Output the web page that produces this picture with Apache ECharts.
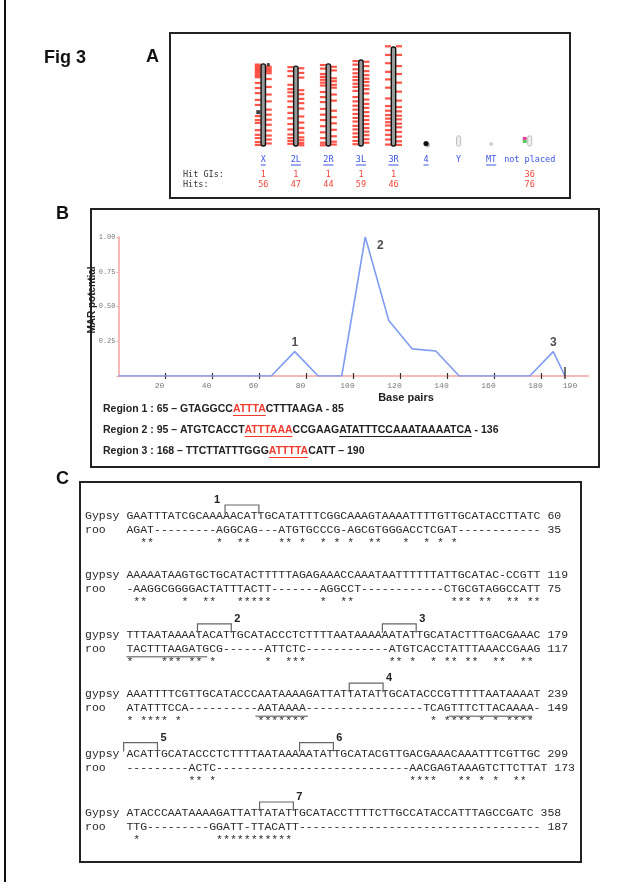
<!DOCTYPE html>
<html>
<head>
<meta charset="utf-8">
<title>Fig 3</title>
<script src="https://cdn.jsdelivr.net/npm/echarts@6.0.0/dist/echarts.min.js"></script>
<style>
    html, body { margin: 0; padding: 0; background: #fff; }
    #fig { width: 638px; height: 895px; }
</style>
</head>
<body>
<div id="fig"></div>
<script>
// A: hit map on the chromosome arms (positions in Mb from the bottom of each arm)
var chromNames = ['X', '2L', '2R', '3L', '3R', '4', 'Y', 'MT', 'not placed'];
var chromLinked = [true, true, true, true, true, true, false, true, false];
var chromLen = [22.8, 22.2, 22.8, 23.9, 27.5, 1.0, 2.8, 0.5, 2.8];
var hitGIs = ['1', '1', '1', '1', '1', '', '', '', '36'];
var hitCounts = ['56', '47', '44', '59', '46', '', '', '', '76'];
var hitsLeft = [
    [22.6, 22.1, 21.6, 21.1, 20.6, 20.1, 19.6, 19.1, 17.5, 16.1, 14.7, 12.8, 11.4, 8.3, 7.2, 6.4, 4.4, 3.1, 2.2, 1.1, 0.3],
    [21.9, 20.8, 19.4, 17.0, 15.8, 14.9, 13.8, 12.4, 10.8, 9.2, 7.7, 6.1, 4.6, 3.2, 2.2, 1.4, 0.6],
    [22.5, 21.5, 20.0, 19.2, 18.4, 17.6, 16.8, 15.0, 13.6, 12.2, 10.3, 8.7, 7.2, 5.5, 3.8, 2.2, 0.9, 0.2],
    [23.6, 22.6, 21.3, 20.2, 19.2, 18.3, 17.3, 16.4, 15.3, 13.6, 12.4, 11.2, 10.1, 8.9, 7.8, 6.8, 5.6, 4.6, 3.5, 2.5, 1.4, 0.5],
    [27.7, 25.3, 23.0, 20.6, 18.5, 16.2, 13.2, 11.1, 9.8, 8.6, 7.6, 6.6, 5.7, 4.4, 3.1, 1.8, 0.4],
    [], [], [], []
];
var hitsRight = [
    [22.0, 21.4, 20.8, 20.2, 18.6, 16.4, 14.3, 12.4, 10.1, 8.7, 7.3, 5.9, 4.3, 2.9, 1.8, 0.7],
    [21.6, 20.3, 19.0, 15.5, 14.4, 13.1, 11.9, 10.4, 8.2, 6.5, 5.0, 3.7, 2.4, 1.6, 0.8, 0.2],
    [22.0, 21.0, 18.8, 18.0, 17.0, 16.2, 14.3, 12.6, 9.8, 8.0, 6.3, 4.5, 2.7, 1.2, 0.4],
    [23.4, 22.2, 20.8, 19.7, 18.7, 17.8, 16.8, 15.8, 14.6, 12.9, 11.7, 10.6, 9.4, 8.3, 7.2, 6.1, 5.0, 4.0, 3.0, 1.9, 0.9],
    [27.7, 25.3, 22.2, 20.0, 17.6, 15.1, 12.6, 10.8, 9.6, 8.4, 7.4, 6.2, 5.2, 3.9, 2.6, 1.3, 0.3],
    [], [], [], []
];
// the two black marks on X
var blackLeft = [[0, 9.4]];
var blackRight = [[0, 22.6]];

// B: MAR potential along the sequence
var basePairs = [0, 65, 75, 85, 95, 105, 115, 125, 135, 145, 175, 185, 190];
var marPotential = [0, 0, 0.175, 0, 0, 1.0, 0.40, 0.195, 0.18, 0, 0, 0.175, 0];
var peakBp = [75, 105, 185];
var peakValue = [0.175, 1.0, 0.175];
var peakText = ['1', '2', '3'];
var bpTicks = [20, 40, 60, 80, 100, 120, 140, 160, 180];
var bpLabels = [20, 40, 60, 80, 100, 120, 140, 160, 180, 190];
var regions = [
    [['Region 1 : 65 \u2013 GTAGGCC', 'n'], ['ATTTA', 'r'], ['CTTTAAGA - 85', 'n']],
    [['Region 2 : 95 \u2013 ATGTCACCT', 'n'], ['ATTTAAA', 'r'], ['CCGAAG', 'n'], ['ATATTTCCAAATAAAATCA', 'u'], [' - 136', 'n']],
    [['Region 3 : 168 \u2013 TTCTTATTTGGG', 'n'], ['ATTTTA', 'r'], ['CATT \u2013 190', 'n']]
];

// C: gypsy / roo alignment
var alnNames = ['Gypsy', 'gypsy', 'gypsy', 'gypsy', 'gypsy', 'Gypsy'];
var gypsySeq = [
    'GAATTTATCGCAAAAACATTGCATATTTCGGCAAAGTAAAATTTTGTTGCATACCTTATC',
    'AAAAATAAGTGCTGCATACTTTTTAGAGAAACCAAATAATTTTTTATTGCATAC-CCGTT',
    'TTTAATAAAATACATTGCATACCCTCTTTTAATAAAAAATATTGCATACTTTGACGAAAC',
    'AAATTTTCGTTGCATACCCAATAAAAGATTATTATATTGCATACCCGTTTTTAATAAAAT',
    'ACATTGCATACCCTCTTTTAATAAAAATATTGCATACGTTGACGAAACAAATTTCGTTGC',
    'ATACCCAATAAAAGATTATTATATTGCATACCTTTTCTTGCCATACCATTTAGCCGATC'
];
var rooSeq = [
    'AGAT---------AGGCAG---ATGTGCCCG-AGCGTGGGACCTCGAT------------',
    '-AAGGCGGGGACTATTTACTT-------AGGCCT------------CTGCGTAGGCCATT',
    'TACTTTAAGATGCG------ATTCTC------------ATGTCACCTATTTAAACCGAAG',
    'ATATTTCCA----------AATAAAA-----------------TCAGTTTCTTACAAAA-',
    '---------ACTC----------------------------AACGAGTAAAGTCTTCTTAT',
    'TTG---------GGATT-TTACATT-----------------------------------'
];
var gypsyEnd = [60, 119, 179, 239, 299, 358];
var rooEnd = [35, 75, 117, 149, 173, 187];
var starCols = [
    [2, 3, 13, 16, 17, 22, 23, 25, 28, 30, 32, 35, 36, 40, 43, 45, 47],
    [1, 2, 8, 11, 12, 16, 17, 18, 19, 20, 28, 31, 32, 47, 48, 49, 51, 52, 55, 56, 58, 59],
    [0, 5, 6, 7, 9, 10, 12, 20, 23, 24, 25, 38, 39, 41, 44, 46, 47, 49, 50, 53, 54, 57, 58],
    [0, 2, 3, 4, 5, 7, 19, 20, 21, 22, 23, 24, 25, 44, 46, 47, 48, 49, 51, 53, 55, 56, 57, 58],
    [9, 10, 12, 41, 42, 43, 44, 48, 49, 51, 53, 56, 57],
    [1, 13, 14, 15, 16, 17, 18, 19, 20, 21, 22, 23]
];
// boxed motifs: block, first column, number
var motifBlock = [0, 2, 2, 3, 4, 4, 5];
var motifCol = [14.3, 10.3, 37.1, 32.3, -0.4, 25.1, 19.3];
var motifText = ['1', '2', '3', '4', '5', '6', '7'];
// underlined stretches of roo: block, from column, to column
var rooMarks = [[2, 0, 11.7], [3, 18.7, 26.3], [3, 46.7, 58.8]];


var chart = echarts.init(document.getElementById('fig'), null, {renderer: 'canvas'});
var ctx = document.createElement('canvas').getContext('2d');

function textWidth(str, font) {
    ctx.font = font;
    return ctx.measureText(str).width;
}

function starLine(cols) {
    var s = [];
    for (var i = 0; i < 60; i++) s.push(' ');
    cols.forEach(function (c) { s[c] = '*'; });
    return s.join('').replace(/\s+$/, '');
}

function pad(str, n) {
    while (str.length < n) str += ' ';
    return str;
}

var SANS = '"Liberation Sans", Arial, sans-serif';
var MONO = '"Liberation Mono", "Courier New", monospace';
var SMALL = '"DejaVu Sans Mono", monospace';
var ink = '#222';
var graphics = [];

// frame, boxes and panel letters
graphics.push({type: 'line', shape: {x1: 5, y1: 0, x2: 5, y2: 882}, style: {stroke: '#111', lineWidth: 2}});
[[170, 33, 400, 165], [91, 209, 508, 258], [80, 482, 501, 380]].forEach(function (b) {
    graphics.push({type: 'rect', shape: {x: b[0], y: b[1], width: b[2], height: b[3]},
        style: {fill: 'none', stroke: '#222', lineWidth: 2}});
});
[['Fig 3', 44, 58], ['A', 146, 57], ['B', 56, 214], ['C', 56, 479]].forEach(function (t) {
    graphics.push({type: 'text', x: t[1], y: t[2], style: {text: t[0], fill: '#111',
        fontSize: 18, fontWeight: 'bold', fontFamily: SANS, verticalAlign: 'middle'}});
});

// panel A row titles
graphics.push({type: 'text', x: 183, y: 175, style: {text: 'Hit GIs:', fill: '#333', fontSize: 8.5, fontFamily: SMALL, verticalAlign: 'middle'}});
graphics.push({type: 'text', x: 183, y: 185, style: {text: 'Hits:', fill: '#333', fontSize: 8.5, fontFamily: SMALL, verticalAlign: 'middle'}});

// panel B titles
graphics.push({type: 'text', x: 406, y: 398, style: {text: 'Base pairs', fill: ink, fontSize: 11, fontWeight: 'bold', fontFamily: SANS, align: 'center', verticalAlign: 'middle'}});
graphics.push({type: 'text', x: 92, y: 300, rotation: Math.PI / 2, style: {text: 'MAR potential', fill: ink, fontSize: 10, fontWeight: 'bold', fontFamily: SANS, align: 'center', verticalAlign: 'middle'}});

// region sequences
var regionFont = 'bold 10.5px ' + SANS;
regions.forEach(function (segs, r) {
    var x = 103, y = 409.5 + r * 21;
    segs.forEach(function (s) {
        var w = textWidth(s[0], regionFont);
        var col = s[1] === 'r' ? '#f03a2e' : ink;
        graphics.push({type: 'text', x: x, y: y, style: {text: s[0], fill: col, fontSize: 10.5,
            fontWeight: 'bold', fontFamily: SANS, verticalAlign: 'middle'}});
        if (s[1] !== 'n') {
            graphics.push({type: 'line', shape: {x1: x, y1: y + 6, x2: x + w, y2: y + 6}, style: {stroke: col, lineWidth: 1}});
        }
        x += w;
    });
});

// alignment text
var cw = 6.9, rowX = 85, seqX = rowX + 6 * cw;
function blockY(b) { return 516 + b * 59.4; }
gypsySeq.forEach(function (seq, b) {
    var y = blockY(b);
    var rows = [
        pad(alnNames[b], 6) + seq + ' ' + gypsyEnd[b],
        pad('roo', 6) + rooSeq[b] + ' ' + rooEnd[b],
        pad('', 6) + starLine(starCols[b])
    ];
    rows.forEach(function (txt, k) {
        graphics.push({type: 'text', x: rowX, y: y + [0, 14, 27][k], style: {text: txt, fill: '#2a2a2a',
            fontSize: cw / 0.6, fontFamily: MONO, verticalAlign: 'middle'}});
    });
});
motifCol.forEach(function (c, m) {
    var y = blockY(motifBlock[m]);
    var x1 = seqX + c * cw, x2 = x1 + 4.9 * cw;
    graphics.push({type: 'polyline', shape: {points: [[x1, y - 2], [x1, y - 11], [x2, y - 11], [x2, y - 2]]},
        style: {fill: 'none', stroke: '#666', lineWidth: 1.2}});
    graphics.push({type: 'text', x: m === 0 ? x1 - 8 : x2 + 6, y: y - 16, style: {text: motifText[m], fill: ink,
        fontSize: 11, fontWeight: 'bold', fontFamily: SANS, align: 'center', verticalAlign: 'middle'}});
});
rooMarks.forEach(function (u) {
    var y = blockY(u[0]) + 22;
    graphics.push({type: 'line', shape: {x1: seqX + u[1] * cw, y1: y, x2: seqX + u[2] * cw, y2: y},
        style: {stroke: '#888', lineWidth: 1.5}});
});

// scatter points for hits
function hitPoints(list) {
    var pts = [];
    list.forEach(function (arr, i) {
        arr.forEach(function (v) { pts.push([i, v]); });
    });
    return pts;
}

chart.setOption({
    animation: false,
    grid: [
        {left: 247, top: 45.2, width: 293, height: 100.8},
        {left: 118.5, top: 237, width: 470, height: 139}
    ],
    xAxis: [
        {gridIndex: 0, type: 'category', data: chromNames, show: false},
        {
            gridIndex: 1, type: 'value', min: 0, max: 200, position: 'bottom',
            axisLine: {lineStyle: {color: '#f5a3a3', width: 1.5}},
            axisTick: {customValues: bpTicks, length: 3, lineStyle: {color: '#333', width: 1.2}},
            axisLabel: {
                customValues: bpLabels, color: '#777', fontSize: 8, fontFamily: MONO, margin: 6,
                formatter: function (v) { return v === 190 ? '{r|190}' : '{n|' + v + '}'; },
                rich: {n: {padding: [0, 12, 0, 0]}, r: {padding: [0, 0, 0, 10]}}
            },
            splitLine: {show: false}
        },
        {
            gridIndex: 1, type: 'value', min: 0, max: 200, position: 'bottom',
            axisLine: {show: false},
            axisTick: {customValues: bpTicks, inside: true, length: 3, lineStyle: {color: '#333', width: 1.2}},
            axisLabel: {show: false},
            splitLine: {show: false}
        }
    ],
    yAxis: [
        {gridIndex: 0, type: 'value', min: 0, max: 28, show: false},
        {
            gridIndex: 1, type: 'value', min: 0, max: 1, interval: 0.25,
            axisLine: {show: true, lineStyle: {color: '#f5a3a3', width: 1.5}},
            axisTick: {show: true, length: 2, lineStyle: {color: '#f5a3a3'}},
            axisLabel: {color: '#777', fontSize: 7, fontFamily: MONO, margin: 3,
                formatter: function (v) { return v === 0 ? '' : v.toFixed(2); }},
            splitLine: {show: false}
        }
    ],
    series: [
        {
            type: 'custom', xAxisIndex: 0, yAxisIndex: 0,
            data: chromLen.map(function (l, i) { return [i, l]; }),
            renderItem: function (params, api) {
                var i = api.value(0);
                var b = api.coord([i, 0]), t = api.coord([i, api.value(1)]);
                var name = chromNames[i];
                if (name === '4') {
                    return {type: 'group', children: [
                        {type: 'circle', shape: {cx: b[0] + 1.5, cy: b[1] - 1, r: 2.5}, style: {fill: '#bbb'}},
                        {type: 'circle', shape: {cx: b[0], cy: b[1] - 2.5, r: 2.6}, style: {fill: '#111'}}
                    ]};
                }
                if (name === 'MT') {
                    return {type: 'circle', shape: {cx: b[0], cy: b[1] - 2, r: 2}, style: {fill: '#d0d0d0'}};
                }
                if (name === 'Y' || name === 'not placed') {
                    var cx = name === 'Y' ? b[0] : b[0] + 6;
                    var kids = [{type: 'rect', shape: {x: cx - 2, y: t[1], width: 4, height: b[1] - t[1], r: 1.5},
                        style: {fill: '#f0f0f0', stroke: '#bbb', lineWidth: 1}}];
                    if (name === 'not placed') {
                        kids.push({type: 'rect', shape: {x: cx - 7, y: t[1] + 1, width: 4, height: 3}, style: {fill: '#e0409a'}});
                        kids.push({type: 'rect', shape: {x: cx - 7, y: t[1] + 4, width: 4, height: 3}, style: {fill: '#5ac85a'}});
                    }
                    return {type: 'group', children: kids};
                }
                return {type: 'rect', shape: {x: b[0] - 2.2, y: t[1], width: 4.4, height: b[1] - t[1], r: 2},
                    style: {fill: '#9a9a9a', stroke: '#111', lineWidth: 1.4}};
            },
            z: 3
        },
        {
            type: 'scatter', xAxisIndex: 0, yAxisIndex: 0, data: hitPoints(hitsLeft),
            symbol: 'rect', symbolSize: [6, 2.2], symbolOffset: [-5.5, 0],
            itemStyle: {color: '#ff2a1a'}, silent: true
        },
        {
            type: 'scatter', xAxisIndex: 0, yAxisIndex: 0, data: hitPoints(hitsRight),
            symbol: 'rect', symbolSize: [6, 2.2], symbolOffset: [5.5, 0],
            itemStyle: {color: '#ff2a1a'}, silent: true
        },
        {
            type: 'scatter', xAxisIndex: 0, yAxisIndex: 0, data: blackLeft,
            symbol: 'rect', symbolSize: [4, 4], symbolOffset: [-5, 0], itemStyle: {color: '#111'}
        },
        {
            type: 'scatter', xAxisIndex: 0, yAxisIndex: 0, data: blackRight,
            symbol: 'rect', symbolSize: [3, 3], symbolOffset: [5, 0], itemStyle: {color: '#111'}
        },
        {
            // names under the arms + hit counts
            type: 'custom', xAxisIndex: 0, yAxisIndex: 0,
            data: chromNames.map(function (n, i) { return [i, 0]; }),
            renderItem: function (params, api) {
                var i = api.value(0);
                var p = api.coord([i, 0]);
                var name = chromNames[i];
                var x = name === 'not placed' ? p[0] + 6 : p[0];
                var w = name.length * 5.1;
                var kids = [
                    {type: 'text', x: x, y: p[1] + 14, style: {text: name, fill: '#3d55e6', fontSize: 8.5, fontFamily: SMALL, align: 'center', verticalAlign: 'middle'}},
                    {type: 'text', x: x, y: p[1] + 29, style: {text: hitGIs[i], fill: '#f0483c', fontSize: 8.5, fontFamily: SMALL, align: 'center', verticalAlign: 'middle'}},
                    {type: 'text', x: x, y: p[1] + 39, style: {text: hitCounts[i], fill: '#f0483c', fontSize: 8.5, fontFamily: SMALL, align: 'center', verticalAlign: 'middle'}}
                ];
                if (chromLinked[i]) {
                    kids.push({type: 'line', shape: {x1: x - w / 2, y1: p[1] + 19, x2: x + w / 2, y2: p[1] + 19}, style: {stroke: '#3d55e6', lineWidth: 1}});
                }
                return {type: 'group', children: kids};
            }
        },
        {
            type: 'line', xAxisIndex: 1, yAxisIndex: 1,
            data: basePairs.map(function (x, i) { return [x, marPotential[i]]; }),
            symbol: 'none', lineStyle: {color: '#7f9cf2', width: 1.6}, z: 4
        },
        {
            type: 'scatter', xAxisIndex: 1, yAxisIndex: 1,
            data: peakBp.map(function (x, i) { return [x, peakValue[i]]; }),
            symbolSize: 0,
            label: {
                show: true, color: ink, fontSize: 12, fontWeight: 'bold', fontFamily: SANS,
                formatter: function (p) { return peakText[p.dataIndex]; },
                position: 'top', distance: 3
            },
            labelLayout: function (params) {
                if (params.dataIndex === 1) return {dx: 15, dy: 18};
                return {};
            }
        },
        {
            // the long tick at the end of the sequence
            type: 'custom', xAxisIndex: 1, yAxisIndex: 1, data: [[190, 0]],
            renderItem: function (params, api) {
                var p = api.coord([api.value(0), 0]);
                return {type: 'line', shape: {x1: p[0], y1: p[1] - 9, x2: p[0], y2: p[1] + 3}, style: {stroke: '#333', lineWidth: 1.4}};
            },
            z: 5
        }
    ],
    graphic: graphics
});
</script>
</body>
</html>
